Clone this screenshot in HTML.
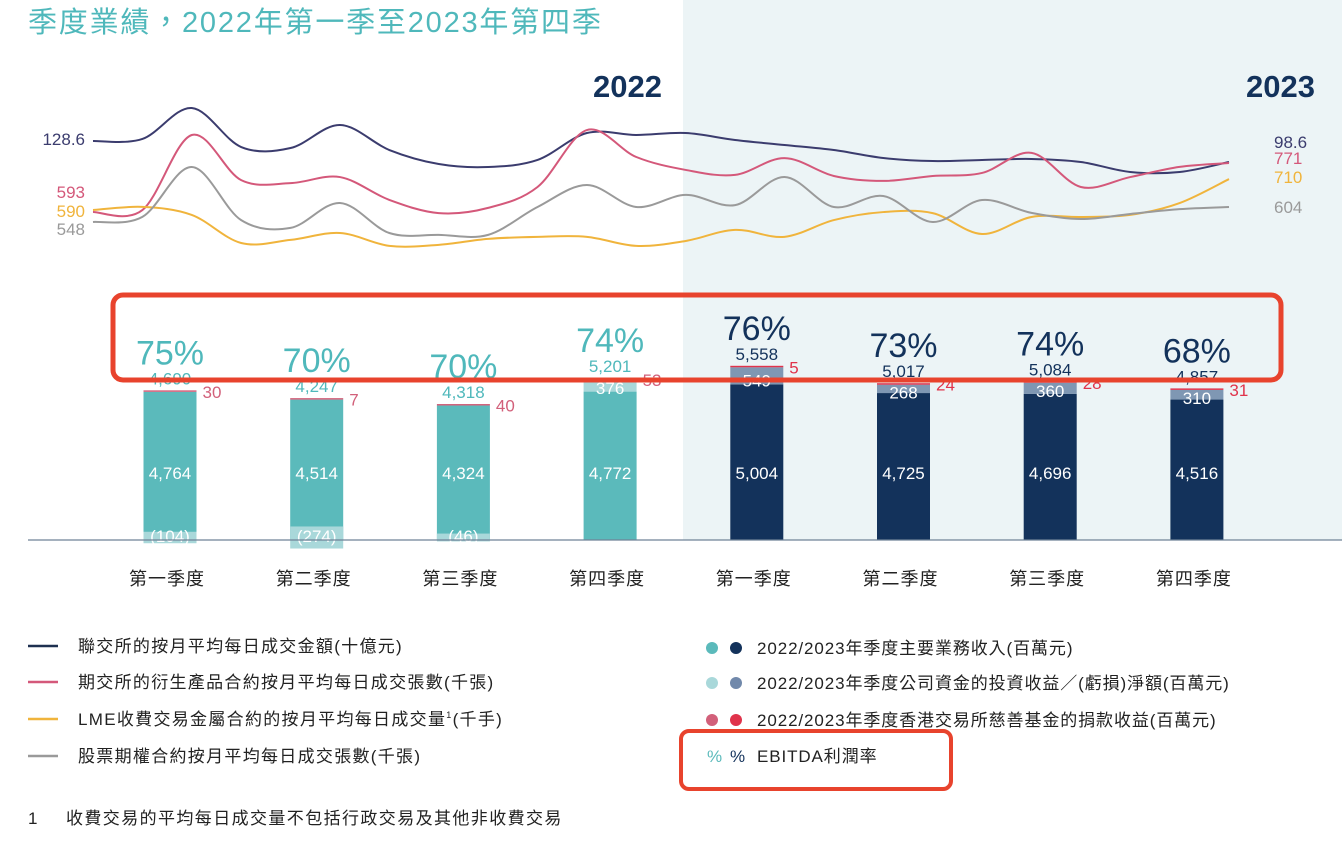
<!DOCTYPE html>
<html><head><meta charset="utf-8">
<style>
html,body{margin:0;padding:0;background:#fff;}
body{width:1342px;height:858px;overflow:hidden;font-family:"Liberation Sans","Noto Sans CJK TC",sans-serif;}
svg text{font-family:"Liberation Sans","Noto Sans CJK TC",sans-serif;}
</style></head>
<body>
<svg id="chart" width="1342" height="858" viewBox="0 0 1342 858" xmlns="http://www.w3.org/2000/svg">
<rect x="683" y="0" width="659" height="540" fill="#ecf4f6"/>
<text x="28" y="32" font-size="29" letter-spacing="1.8" fill="#4fb8bb">季度業績，2022年第一季至2023年第四季</text>
<text x="662" y="97" font-size="31" font-weight="bold" fill="#13325b" text-anchor="end">2022</text>
<text x="1315" y="97" font-size="31" font-weight="bold" fill="#13325b" text-anchor="end">2023</text>
<g id="lines"></g>
<g id="bars"></g>
<line x1="28" y1="540" x2="1342" y2="540" stroke="#6f8296" stroke-width="1.2"/>
<g id="xlabels"></g>
<rect x="113" y="295" width="1168" height="85" rx="10" fill="none" stroke="#e8432d" stroke-width="5"/>
<rect x="681" y="731" width="270" height="58" rx="8" fill="none" stroke="#e8432d" stroke-width="4"/>

<g font-size="17" letter-spacing="1.3" fill="#222">
  <line x1="28" y1="646" x2="58" y2="646" stroke="#1e3050" stroke-width="2.5"/>
  <text x="78" y="652">聯交所的按月平均每日成交金額(十億元)</text>
  <line x1="28" y1="682" x2="58" y2="682" stroke="#d4587a" stroke-width="2.5"/>
  <text x="78" y="688">期交所的衍生產品合約按月平均每日成交張數(千張)</text>
  <line x1="28" y1="719" x2="58" y2="719" stroke="#f0b43c" stroke-width="2.5"/>
  <text x="78" y="725">LME收費交易金屬合約的按月平均每日成交量<tspan font-size="9" dy="-7">1</tspan><tspan dy="7">(千手)</tspan></text>
  <line x1="28" y1="756" x2="58" y2="756" stroke="#9a9a9a" stroke-width="2.5"/>
  <text x="78" y="762">股票期權合約按月平均每日成交張數(千張)</text>
</g>
<g font-size="17" letter-spacing="0.9" fill="#222">
  <circle cx="712" cy="648" r="6" fill="#5bbabb"/><circle cx="736" cy="648" r="6" fill="#13325b"/>
  <text x="757" y="654">2022/2023年季度主要業務收入(百萬元)</text>
  <circle cx="712" cy="683" r="6" fill="#a9d8da"/><circle cx="736" cy="683" r="6" fill="#7189ab"/>
  <text x="757" y="689">2022/2023年季度公司資金的投資收益／(虧損)淨額(百萬元)</text>
  <circle cx="712" cy="720" r="6" fill="#d2607a"/><circle cx="736" cy="720" r="6" fill="#e0334b"/>
  <text x="757" y="726">2022/2023年季度香港交易所慈善基金的捐款收益(百萬元)</text>
  <text x="707" y="762" fill="#5bbabb">%</text><text x="730" y="762" fill="#13325b">%</text>
  <text x="757" y="762">EBITDA利潤率</text>
</g>
<text x="28" y="824" font-size="17" fill="#222">1</text>
<text x="66" y="824" font-size="17" letter-spacing="1.4" fill="#222">收費交易的平均每日成交量不包括行政交易及其他非收費交易</text>
</svg>
<script>
const quarters = ["第一季度","第二季度","第三季度","第四季度","第一季度","第二季度","第三季度","第四季度"];
const revenue = [4764,4514,4324,4772,5004,4725,4696,4516];
const investment = [-104,-274,-46,376,549,268,360,310];
const donation = [30,7,40,53,5,24,28,31];
const totals = ["4,690","4,247","4,318","5,201","5,558","5,017","5,084","4,857"];
const ebitda = [75,70,70,74,76,73,74,68];
const hkexTurnover = [128.6,131.5,175.7,120.0,118.6,151.5,115.7,95.7,91.5,101.5,140.0,137.2,140.0,130.0,122.9,115.7,104.3,100.0,101.5,102.9,98.6,84.3,84.3,98.6];
const hkfeContracts = [593,600,873,709,698,720,637,589,608,684,891,793,746,728,789,724,706,724,735,808,684,720,757,771];
const lmeVolume = [590,602,571,462,474,501,451,455,478,486,486,451,470,513,486,551,582,578,497,563,563,571,617,710];
const stockOptions = [548,567,753,555,526,619,507,500,500,604,686,604,649,611,716,604,645,548,630,582,559,578,596,604];

const NS="http://www.w3.org/2000/svg";
function mk(tag,attrs,parent){const e=document.createElementNS(NS,tag);for(const k in attrs)e.setAttribute(k,attrs[k]);parent.appendChild(e);return e;}

const xMonth = i => 93 + i*(1229-93)/23;
const lineDefs = [
 {data:hkexTurnover,color:"#3b3c6e",y:v=>141-(v-128.6)*0.7,name:"hkex-turnover-line",lab:"128.6",ly:145,rlab:"98.6",rly:148},
 {data:hkfeContracts,color:"#d4587a",y:v=>212-(v-593)*0.275,name:"hkfe-contracts-line",lab:"593",ly:198,rlab:"771",rly:164},
 {data:lmeVolume,color:"#f0b43c",y:v=>210-(v-590)*0.258,name:"lme-volume-line",lab:"590",ly:217,rlab:"710",rly:183},
 {data:stockOptions,color:"#9a9a9a",y:v=>222-(v-548)*0.268,name:"stock-options-line",lab:"548",ly:235,rlab:"604",rly:213}
];
const lg=document.getElementById('lines');
lineDefs.forEach(d=>{
  const p=d.data.map((v,i)=>[xMonth(i),d.y(v)]);
  let s="M"+p[0][0]+","+p[0][1];
  for(let i=0;i<p.length-1;i++){
    const p0=p[Math.max(0,i-1)],p1=p[i],p2=p[i+1],p3=p[Math.min(p.length-1,i+2)];
    const c1=[p1[0]+(p2[0]-p0[0])/6,p1[1]+(p2[1]-p0[1])/6];
    const c2=[p2[0]-(p3[0]-p1[0])/6,p2[1]-(p3[1]-p1[1])/6];
    s+=" C"+c1[0]+","+c1[1]+" "+c2[0]+","+c2[1]+" "+p2[0]+","+p2[1];
  }
  const path=mk('path',{d:s,fill:"none",stroke:d.color,"stroke-width":2},lg);
  
  
  const t1=mk('text',{x:85,y:d.ly,"text-anchor":"end","font-size":17,fill:d.color},lg);t1.textContent=d.lab;
  
  
  const t2=mk('text',{x:1274,y:d.rly,"font-size":17,fill:d.color},lg);t2.textContent=d.rlab;
  
  
});

const base=540, sc=0.0311, bw=53;
const xBar = i => 170 + i*146.7;
const bg=document.getElementById('bars');
const xl=document.getElementById('xlabels');
revenue.forEach((v,i)=>{
  const is23=i>=4, cx=xBar(i), x0=cx-bw/2;
  const main=is23?"#13325b":"#5bbabb", inv=is23?"#7f97b3":"#a9d8da", don=is23?"#e0334b":"#d2607a", pc=is23?"#13325b":"#4fb8bb";
  const top=base-v*sc;
  const r=mk('rect',{x:x0,y:top,width:bw,height:v*sc,fill:main},bg);
  
  
  let ttop=top;
  const iv=investment[i];
  if(iv>=0){
    ttop=top-iv*sc;
    const ri=mk('rect',{x:x0,y:ttop,width:bw,height:iv*sc,fill:inv},bg);
    
    
    const ti=mk('text',{x:cx,y:ttop+Math.max(iv*sc,12)+2,"text-anchor":"middle","font-size":17,fill:"#fff"},bg);ti.textContent=String(iv);
    
    
  } else {
    const h=-iv*sc;
    const ri=mk('rect',{x:x0,y:base-h-5,width:bw,height:2*h+5,fill:inv},bg);
    
    
    const ti=mk('text',{x:cx,y:base+2,"text-anchor":"middle","font-size":17,fill:"#fff"},bg);ti.textContent="("+(-iv)+")";
    
    
  }
  const dh=Math.max(1.5,donation[i]*sc);
  const rd=mk('rect',{x:x0,y:ttop-dh,width:bw,height:dh,fill:don},bg);
  
  
  const td=mk('text',{x:x0+bw+6,y:ttop+6,"font-size":17,fill:don},bg);td.textContent=String(donation[i]);
  
  
  const tm=mk('text',{x:cx,y:479,"text-anchor":"middle","font-size":17,fill:"#fff"},bg);tm.textContent=v.toLocaleString('en-US');
  
  
  const ty=ttop-dh-6;
  const tt=mk('text',{x:cx,y:ty,"text-anchor":"middle","font-size":17,fill:pc},bg);tt.textContent=totals[i];
  
  
  const tp=mk('text',{x:cx,y:ty-20,"text-anchor":"middle","font-size":34,fill:pc},bg);tp.textContent=ebitda[i]+"%";
  
  
  const tx=mk('text',{x:cx-3,y:585,"text-anchor":"middle","font-size":18,"letter-spacing":"1",fill:"#222"},xl);tx.textContent=quarters[i];
  
  
});
</script>
</body></html>
